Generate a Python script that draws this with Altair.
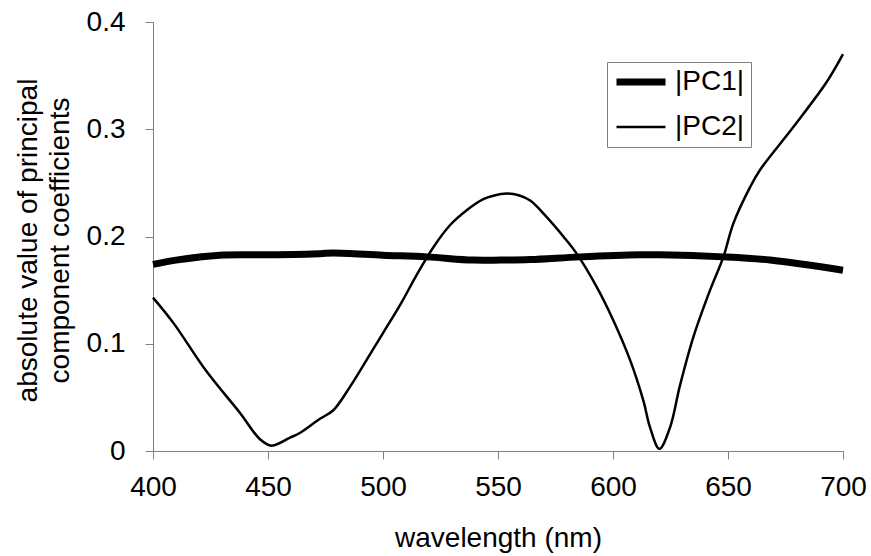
import altair as alt
import pandas as pd

# |PC1| (thick line)
pc1_nm = [400, 410, 429, 450, 472.6, 478.4, 500, 519, 539, 551, 564, 585.7, 611.7, 620.4, 648, 668.3, 700]
pc1_val = [0.174, 0.178, 0.1826, 0.183, 0.184, 0.1847, 0.1826, 0.181, 0.178, 0.178, 0.1785, 0.181, 0.183, 0.183, 0.181, 0.178, 0.1686]

# |PC2| (thin line)
pc2_nm = [400, 409, 423, 438, 446.5, 451.6, 459.6, 464, 472.6, 478.4, 485.7, 492.9, 500, 507.4, 514.6,
          521.9, 529.1, 536.4, 543.6, 548, 553.8, 559, 564, 571.2, 578.4, 584.2, 592.9, 600.1, 607.4,
          613.2, 616.1, 620.2, 624.8, 629.1, 634.9, 642.2, 648, 652.3, 659.6, 663.9, 678.4, 692.9, 700]
pc2_val = [0.143, 0.119, 0.075, 0.035, 0.011, 0.005, 0.0125, 0.017, 0.030, 0.038, 0.060, 0.085, 0.110, 0.136, 0.164,
           0.190, 0.2105, 0.2245, 0.2348, 0.238, 0.240, 0.2385, 0.2335, 0.218, 0.200, 0.184, 0.153, 0.122, 0.085,
           0.047, 0.022, 0.002, 0.022, 0.061, 0.106, 0.150, 0.181, 0.212, 0.246, 0.262, 0.302, 0.344, 0.370]

series_names = ["|PC1|", "|PC2|"]
x_ticks = [400, 450, 500, 550, 600, 650, 700]
y_ticks = [0, 0.1, 0.2, 0.3, 0.4]

df = pd.concat([
    pd.DataFrame({"nm": pc1_nm, "value": pc1_val, "series": series_names[0]}),
    pd.DataFrame({"nm": pc2_nm, "value": pc2_val, "series": series_names[1]}),
])

FONT = "Liberation Sans"

chart = alt.Chart(df).mark_line(interpolate="catmull-rom", color="black").encode(
    x=alt.X("nm:Q",
            scale=alt.Scale(domain=[400, 700], nice=False, zero=False),
            axis=alt.Axis(values=x_ticks, title="wavelength (nm)", format="d", labelFlush=False,
                          labelPadding=14, titleX=345, titleY=101, titleBaseline="bottom")),
    y=alt.Y("value:Q",
            scale=alt.Scale(domain=[0, 0.4], nice=False),
            axis=alt.Axis(values=y_ticks, format=".1~f", labelFlush=False,
                          title=["absolute value of principal", "component coefficients"],
                          labelPadding=20, titleX=-111, titleY=218, titleBaseline="bottom",
                          titleAngle=270, titleLineHeight=32)),
    strokeWidth=alt.StrokeWidth("series:N",
                                scale=alt.Scale(domain=series_names, range=[7, 2.5]),
                                legend=alt.Legend(title=None, orient="none", legendX=454, legendY=40,
                                                  symbolType="stroke", symbolSize=2401,
                                                  symbolStrokeColor="black",
                                                  labelFontSize=28, labelFont=FONT, labelColor="black",
                                                  labelOffset=6, padding=6, rowPadding=17, clipHeight=28,
                                                  strokeColor="#808080", fillColor="white")),
    order=alt.Order("nm:Q"),
).properties(
    width=690, height=429,
    autosize=alt.AutoSizeParams(type="none"),
    padding={"left": 153, "top": 22, "right": 28, "bottom": 105},
).configure_view(stroke=None).configure_axis(
    grid=False, domainColor="#808080", tickColor="#808080", tickSize=8,
    labelFont=FONT, labelFontSize=28, labelColor="black",
    titleFont=FONT, titleFontSize=28, titleFontWeight="normal", titleColor="black",
)

chart.save("out.html", embed_options={"renderer": "svg", "actions": False})
